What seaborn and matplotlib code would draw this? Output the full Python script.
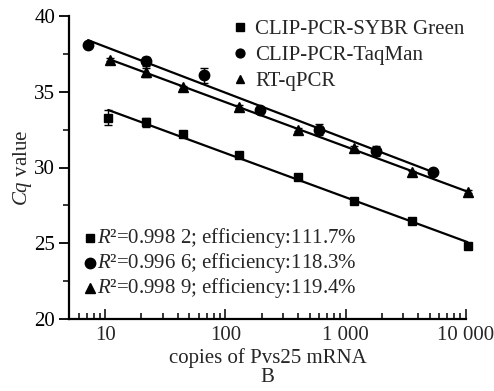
import numpy as np
import pandas as pd
import matplotlib
matplotlib.use("Agg")
import matplotlib.pyplot as plt
from matplotlib.lines import Line2D
import seaborn as sns

sns.set_theme(style="ticks")
plt.rcParams['font.family'] = ['Liberation Serif', 'DejaVu Serif']
plt.rcParams['mathtext.fontset'] = 'custom'
plt.rcParams['mathtext.it'] = 'Liberation Serif:italic'
plt.rcParams['mathtext.rm'] = 'Liberation Serif'

# ---- data ----
sybr_x = [10.6, 22, 44, 130, 400, 1170, 3550, 10300]
sybr_y = [33.3, 33.0, 32.2, 30.8, 29.4, 27.8, 26.5, 24.8]
sybr_err = [0.5, 0.3, 0.1, 0.1, 0.1, 0.1, 0.1, 0.1]

taq_x = [7.2, 22, 66, 195, 595, 1780, 5300]
taq_y = [38.1, 37.0, 36.1, 33.8, 32.5, 31.1, 29.7]
taq_err = [0.1, 0.3, 0.5, 0.2, 0.35, 0.35, 0.1]

rt_x = [11, 22, 44, 130, 400, 1170, 3550, 10300]
rt_y = [37.1, 36.3, 35.3, 34.0, 32.5, 31.3, 29.7, 28.4]
rt_err = [0.1, 0.3, 0.1, 0.1, 0.1, 0.1, 0.1, 0.1]

series_names = ["CLIP-PCR-SYBR Green", "CLIP-PCR-TaqMan", "RT-qPCR"]
r2_labels = ["0.998 2", "0.996 6", "0.998 9"]
eff_labels = ["111.7%", "118.3%", "119.4%"]
xtick_vals = [10, 100, 1000, 10000]
xtick_labels = ["10", "100", "1 000", "10 000"]

markers = ["s", "o", "^"]
msizes = [6, 7.5, 7.5]
series = [(sybr_x, sybr_y, sybr_err), (taq_x, taq_y, taq_err), (rt_x, rt_y, rt_err)]

FS = 15

fig = plt.figure(figsize=(4.94, 3.91), dpi=100)
ax = fig.add_axes([69/494, 1-319/391, (466-69)/494, (319-16)/391])

for (xs, ys, es), name, m, ms in zip(series, series_names, markers, msizes):
    df = pd.DataFrame({"x": xs, "y": ys})
    sns.regplot(data=df, x="x", y="y", logx=True, ci=None, scatter=False,
                color="black", line_kws={"lw": 1.6, "clip_on": False}, ax=ax, truncate=True)
    ax.errorbar(xs, ys, yerr=es, fmt=m, color="black", ms=ms, capsize=3,
                elinewidth=1, capthick=1, zorder=5, clip_on=False)

ax.set_xscale("log")
ax.set_xlim(5, 10000)
ax.set_ylim(20, 40)
ax.set_xticks(xtick_vals, labels=xtick_labels)
ax.set_yticks([20, 25, 30, 35, 40])
ax.set_yticks([22.5, 27.5, 32.5, 37.5], minor=True)
ax.tick_params(axis="y", which="major", direction="out", length=7, width=1.3, labelsize=FS, colors="black", pad=3)
ax.tick_params(axis="y", which="minor", direction="out", length=4, width=1.3)
ax.tick_params(axis="x", which="major", direction="in", length=7, width=1.3, labelsize=FS, pad=5)
ax.tick_params(axis="x", which="minor", direction="in", length=4, width=1.3)
sns.despine(ax=ax)
for s in ["left", "bottom"]:
    ax.spines[s].set_linewidth(1.6)
    ax.spines[s].set_color("black")

ax.set_xlabel("copies of Pvs25 mRNA", fontsize=FS, labelpad=2)
ax.set_ylabel(r"$\mathit{Cq}$ value", fontsize=FS, labelpad=0)
fig.text((69 + 466) / 2 / 494, 1 - 378/391, "B", ha="center", va="center", fontsize=FS)

handles = [Line2D([], [], marker=m, color="black", ls="none", ms=ms * 0.85)
           for m, ms in zip(markers, msizes)]
leg = ax.legend(handles, series_names, loc="upper left", bbox_to_anchor=(0.395, 1.015),
                frameon=False, handlelength=0.6, handletextpad=0.4, labelspacing=0.3,
                fontsize=FS, borderaxespad=0)

ann_y = [238, 263, 288]
for m, ms, r2, eff, yy in zip(markers, msizes, r2_labels, eff_labels, ann_y):
    fy = 1 - yy/391
    fig.lines.append(Line2D([90/494], [fy], marker=m, color="black", ms=ms,
                            transform=fig.transFigure, ls="none"))
    fig.text(97/494, fy, r"$R$²=" + r2 + "; efficiency:" + eff, fontsize=FS,
             va="center", ha="left")

fig.savefig("out.png", dpi=100)
